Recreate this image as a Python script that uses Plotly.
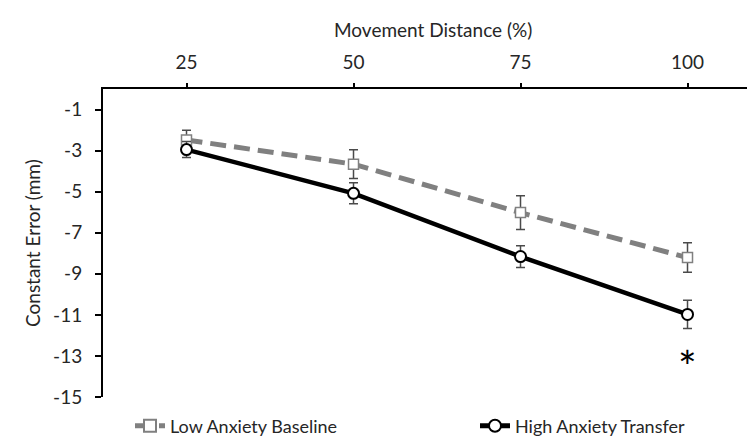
import plotly.graph_objects as go

categories = ["25", "50", "75", "100"]
low_baseline = [-2.48, -3.66, -6.02, -8.21]
low_err = [0.47, 0.70, 0.82, 0.72]
high_transfer = [-2.95, -5.08, -8.16, -10.98]
high_err = [0.39, 0.51, 0.53, 0.69]
y_ticks = [-15, -13, -11, -9, -7, -5, -3, -1]
y_ticklabels = ["-15", "-13", "-11", "-9", "-7", "-5", "-3", "-1"]
x_title = "Movement Distance (%)"
y_title = "Constant Error (mm)"
star_label = "*"
star_value = -13.05

FONT = "Lato"
TXT = "#262626"
xpos = list(range(len(categories)))

fig = go.Figure()
fig.add_trace(go.Scatter(
    x=xpos, y=low_baseline, name="Low Anxiety Baseline", mode="lines+markers",
    line=dict(color="#808080", width=5, dash="16px,8px"),
    marker=dict(symbol="square", size=10, color="white", line=dict(color="#808080", width=1.5)),
    error_y=dict(type="data", array=low_err, color="#4a4a4a", thickness=1.5, width=4.5),
    legend="legend",
))
fig.add_trace(go.Scatter(
    x=xpos, y=high_transfer, name="High Anxiety Transfer", mode="lines+markers",
    line=dict(color="black", width=4.5),
    marker=dict(symbol="circle", size=11, color="white", line=dict(color="black", width=2)),
    error_y=dict(type="data", array=high_err, color="#4a4a4a", thickness=1.5, width=4.5),
    legend="legend2",
))

fig.add_annotation(x=xpos[-1], y=star_value, text=star_label, showarrow=False,
                   font=dict(family=FONT, size=44, color="black"), yanchor="middle", yshift=-9)
fig.add_annotation(xref="paper", yref="paper", x=0.5, y=1, text=x_title, showarrow=False,
                   font=dict(family=FONT, size=19, color=TXT), yanchor="middle", yshift=60)
fig.add_annotation(xref="paper", yref="paper", x=0, y=0.5, text=y_title, showarrow=False,
                   textangle=-90, font=dict(family=FONT, size=19, color=TXT),
                   xanchor="center", xshift=-71)

fig.update_layout(
    width=755, height=438,
    margin=dict(l=95, r=0, t=81, b=49, autoexpand=False),
    paper_bgcolor="white", plot_bgcolor="white",
    font=dict(family=FONT, size=19, color=TXT),
    xaxis=dict(
        side="top", range=[-0.5, 3.452], tickvals=xpos, ticktext=categories,
        showline=True, linecolor="black", linewidth=2, ticks="outside", ticklen=4,
        tickcolor="black", tickwidth=1.5, showgrid=False, zeroline=False,
        tickfont=dict(size=19), tickangle=0, ticklabelstandoff=6,
    ),
    yaxis=dict(
        range=[-15, 0], tickvals=y_ticks, ticktext=y_ticklabels,
        showline=True, linecolor="black", linewidth=2, ticks="outside", ticklen=6,
        tickcolor="black", tickwidth=1.5, showgrid=False, zeroline=False,
        tickfont=dict(size=19), ticklabelstandoff=9,
    ),
    showlegend=True,
    legend=dict(xref="container", yref="container", x=122/755, y=20/438,
                xanchor="left", yanchor="middle", font=dict(size=18), bgcolor="rgba(0,0,0,0)",
                itemsizing="constant"),
    legend2=dict(xref="container", yref="container", x=467/755, y=20/438,
                 xanchor="left", yanchor="middle", font=dict(size=18), bgcolor="rgba(0,0,0,0)",
                 itemsizing="constant"),
)

fig.write_html("out.html")
